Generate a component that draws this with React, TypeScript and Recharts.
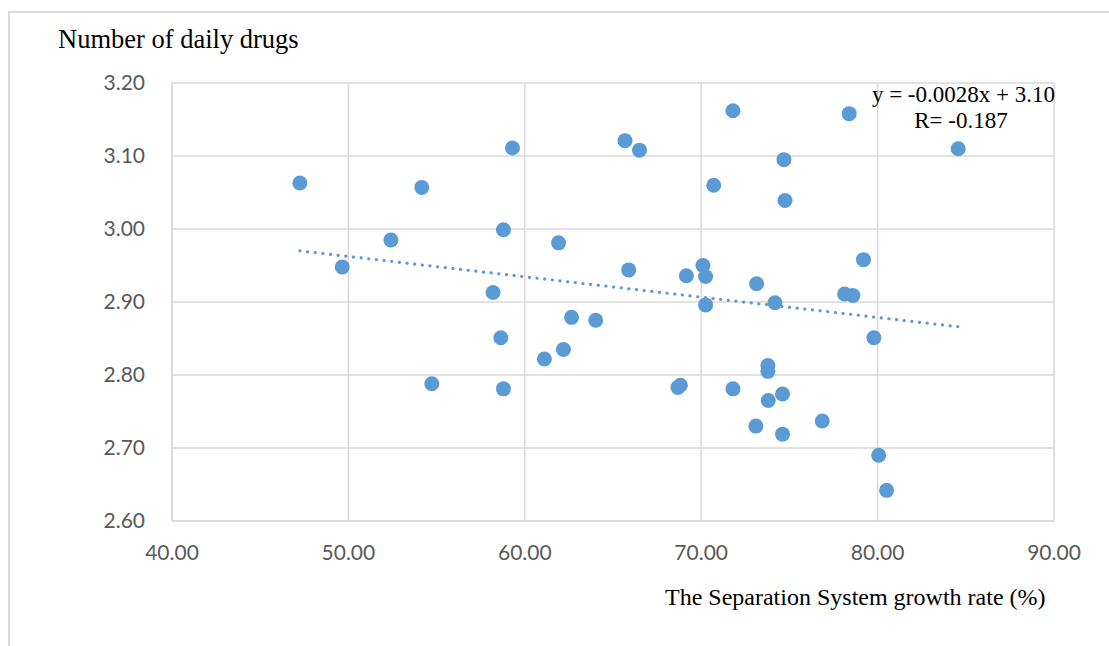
import React from 'react'
import { ScatterChart, Scatter, XAxis, YAxis, CartesianGrid } from 'recharts'

// separation system growth rate (%) per facility
const growthRate = [
  59.3, 47.25, 54.16, 58.79, 52.41, 49.65, 58.2, 71.8, 78.39, 65.68,
  66.5, 74.69, 70.71, 74.75, 61.91, 79.2, 65.89, 70.1, 70.25, 69.16,
  73.14, 78.13, 78.6, 74.18, 70.25, 84.57, 58.64, 54.73, 58.79, 62.65,
  64.02, 62.19, 61.11, 79.79, 73.78, 73.78, 68.68, 68.82, 71.8, 73.8,
  74.61, 76.86, 73.1, 74.61, 80.06, 80.51,
]

// number of daily drugs
const dailyDrugs = [
  3.111, 3.063, 3.057, 2.999, 2.985, 2.948, 2.913, 3.162, 3.158, 3.121,
  3.108, 3.095, 3.06, 3.039, 2.981, 2.958, 2.944, 2.95, 2.935, 2.936,
  2.925, 2.911, 2.909, 2.899, 2.896, 3.11, 2.851, 2.788, 2.781, 2.879,
  2.875, 2.835, 2.822, 2.851, 2.813, 2.805, 2.783, 2.786, 2.781, 2.765,
  2.774, 2.737, 2.73, 2.719, 2.69, 2.642,
]

// linear trendline ends
const trendX = [47.25, 84.6]
const trendY = [2.97, 2.866]

const xTicks = [40, 50, 60, 70, 80, 90]
const yTicks = [2.6, 2.7, 2.8, 2.9, 3.0, 3.1, 3.2]

const BLUE = '#5B9BD5'
const GRID = '#d9d9d9'

const points = growthRate.map((x, i) => ({ x, y: dailyDrugs[i] }))
const trend = trendX.map((x, i) => ({ x, y: trendY[i] }))

const Dot = (props: any) => {
  if (props.cx == null || props.cy == null) return <g />
  return <circle cx={props.cx} cy={props.cy} r={7.5} fill={BLUE} />
}

export default function App() {
  return (
    <div style={{ position: 'relative', width: 1109, height: 646, background: '#fff' }}>
      <style>{'body{margin:0;}'}</style>
      <div
        style={{
          position: 'absolute',
          left: 8,
          top: 11,
          right: 0,
          bottom: 0,
          borderTop: `2px solid ${GRID}`,
          borderLeft: `2px solid ${GRID}`,
        }}
      />
      <div style={{ position: 'absolute', left: 0, top: 0 }}>
        <ScatterChart width={1109} height={646} margin={{ top: 83, right: 55, bottom: 0, left: 0 }}>
          <CartesianGrid stroke={GRID} strokeWidth={1.5} />
          <XAxis
            type="number"
            dataKey="x"
            domain={[40, 90]}
            ticks={xTicks}
            tickFormatter={(v: number) => v.toFixed(2)}
            height={125}
            tickLine={false}
            tickSize={0}
            tickMargin={24}
            axisLine={{ stroke: GRID, strokeWidth: 1.5 }}
            tick={{ fill: '#595959', fontSize: 21, fontFamily: 'Lato, sans-serif' }}
            interval={0}
          />
          <YAxis
            type="number"
            dataKey="y"
            domain={[2.6, 3.2]}
            ticks={yTicks}
            tickFormatter={(v: number) => v.toFixed(2)}
            width={172}
            tickLine={false}
            tickSize={0}
            tickMargin={27}
            axisLine={{ stroke: GRID, strokeWidth: 1.5 }}
            tick={{ fill: '#595959', fontSize: 21, fontFamily: 'Lato, sans-serif' }}
            interval={0}
          />
          <Scatter
            data={trend}
            line={{ stroke: BLUE, strokeWidth: 3.2, strokeDasharray: '0.1 7.6', strokeLinecap: 'round' }}
            lineType="joint"
            shape={() => <g />}
            isAnimationActive={false}
          />
          <Scatter data={points} shape={Dot} isAnimationActive={false} />
        </ScatterChart>
      </div>
      <svg
        width={1109}
        height={646}
        style={{ position: 'absolute', left: 0, top: 0, pointerEvents: 'none' }}
      >
        <g fontFamily="'Liberation Serif', 'Times New Roman', serif" fill="#000">
          <text x={58} y={48} fontSize={26.5}>Number of daily drugs</text>
          <text x={665} y={605} fontSize={24}>The Separation System growth rate (%)</text>
          <text x={1055} y={102} fontSize={23} textAnchor="end">y = -0.0028x + 3.10</text>
          <text x={961} y={128} fontSize={23} textAnchor="middle">R= -0.187</text>
        </g>
      </svg>
    </div>
  )
}
